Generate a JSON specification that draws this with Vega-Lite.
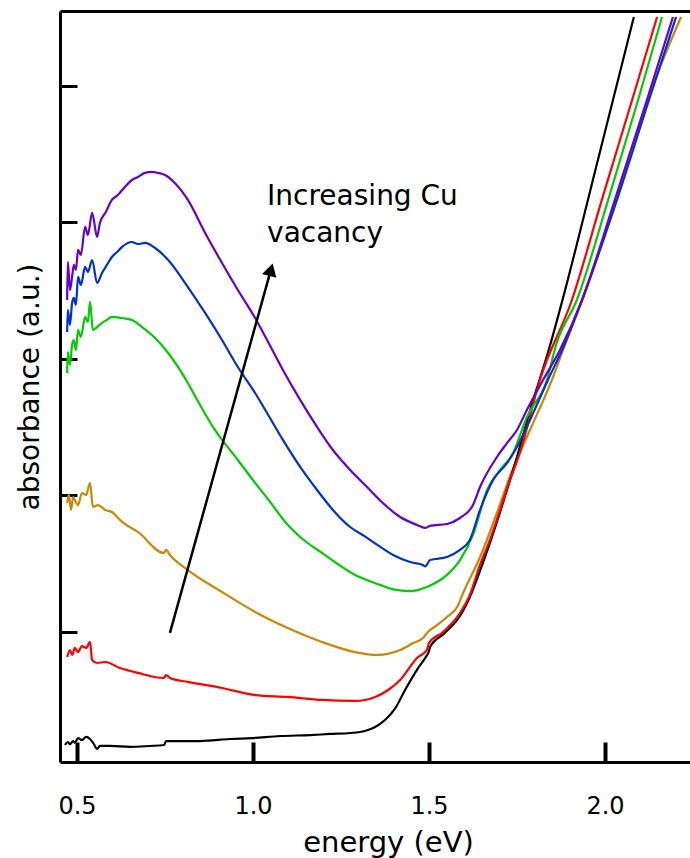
{
  "$schema": "https://vega.github.io/schema/vega-lite/v6.json",
  "width": 630,
  "height": 751,
  "autosize": "none",
  "padding": {"left": 60, "top": 11, "right": 0, "bottom": 96},
  "background": "white",
  "config": {
    "view": {"stroke": null},
    "font": "DejaVu Sans",
    "axis": {"grid": false, "domainColor": "black", "tickColor": "black", "labelColor": "black", "titleColor": "black", "labelFont": "DejaVu Sans", "titleFont": "DejaVu Sans", "titleFontWeight": "normal"}
  },
  "resolve": {"axis": {"x": "independent", "y": "independent"}},
  "datasets": {
    "curves": [
      {"s":"orange","e":0.472,"a":1.945},{"s":"orange","e":0.477,"a":2.004},{"s":"orange","e":0.483,"a":1.894},{"s":"orange","e":0.489,"a":1.989},{"s":"orange","e":0.494,"a":1.967},{"s":"orange","e":0.503,"a":1.930},{"s":"orange","e":0.514,"a":2.018},{"s":"orange","e":0.526,"a":2.004},{"s":"orange","e":0.537,"a":2.092},{"s":"orange","e":0.545,"a":1.916},{"s":"orange","e":0.560,"a":1.930},{"s":"orange","e":0.580,"a":1.894},{"s":"orange","e":0.599,"a":1.879},{"s":"orange","e":0.628,"a":1.806},{"s":"orange","e":0.673,"a":1.733},{"s":"orange","e":0.747,"a":1.579},{"s":"orange","e":0.753,"a":1.601},{"s":"orange","e":0.764,"a":1.564},{"s":"orange","e":0.815,"a":1.454},{"s":"orange","e":0.912,"a":1.293},{"s":"orange","e":1.006,"a":1.147},{"s":"orange","e":1.099,"a":1.029},{"s":"orange","e":1.196,"a":0.927},{"s":"orange","e":1.290,"a":0.853},{"s":"orange","e":1.355,"a":0.832},{"s":"orange","e":1.418,"a":0.868},{"s":"orange","e":1.455,"a":0.919},{"s":"orange","e":1.483,"a":0.956},{"s":"orange","e":1.497,"a":1.000},{"s":"orange","e":1.531,"a":1.066},{"s":"orange","e":1.551,"a":1.110},{"s":"orange","e":1.580,"a":1.183},{"s":"orange","e":1.597,"a":1.286},{"s":"orange","e":1.645,"a":1.549},{"s":"orange","e":1.693,"a":1.872},{"s":"orange","e":1.739,"a":2.201},{"s":"orange","e":1.787,"a":2.480},{"s":"orange","e":1.849,"a":2.846},{"s":"orange","e":1.881,"a":3.066},{"s":"orange","e":1.929,"a":3.396},{"s":"orange","e":2.031,"a":4.165},{"s":"orange","e":2.119,"a":4.875},{"s":"orange","e":2.134,"a":4.985},{"s":"orange","e":2.216,"a":5.505},
      {"s":"black","e":0.466,"a":0.172},{"s":"black","e":0.474,"a":0.194},{"s":"black","e":0.480,"a":0.179},{"s":"black","e":0.489,"a":0.201},{"s":"black","e":0.494,"a":0.187},{"s":"black","e":0.503,"a":0.223},{"s":"black","e":0.514,"a":0.209},{"s":"black","e":0.526,"a":0.231},{"s":"black","e":0.537,"a":0.216},{"s":"black","e":0.548,"a":0.179},{"s":"black","e":0.557,"a":0.143},{"s":"black","e":0.565,"a":0.165},{"s":"black","e":0.594,"a":0.165},{"s":"black","e":0.651,"a":0.158},{"s":"black","e":0.707,"a":0.165},{"s":"black","e":0.747,"a":0.172},{"s":"black","e":0.753,"a":0.201},{"s":"black","e":0.849,"a":0.201},{"s":"black","e":0.935,"a":0.216},{"s":"black","e":0.997,"a":0.223},{"s":"black","e":1.077,"a":0.238},{"s":"black","e":1.162,"a":0.245},{"s":"black","e":1.219,"a":0.253},{"s":"black","e":1.276,"a":0.260},{"s":"black","e":1.318,"a":0.275},{"s":"black","e":1.347,"a":0.304},{"s":"black","e":1.375,"a":0.355},{"s":"black","e":1.403,"a":0.436},{"s":"black","e":1.432,"a":0.575},{"s":"black","e":1.469,"a":0.736},{"s":"black","e":1.491,"a":0.817},{"s":"black","e":1.500,"a":0.861},{"s":"black","e":1.503,"a":0.890},{"s":"black","e":1.545,"a":0.993},{"s":"black","e":1.588,"a":1.117},{"s":"black","e":1.616,"a":1.256},{"s":"black","e":1.653,"a":1.505},{"s":"black","e":1.702,"a":1.879},{"s":"black","e":1.724,"a":2.062},{"s":"black","e":1.750,"a":2.282},{"s":"black","e":1.787,"a":2.620},{"s":"black","e":1.844,"a":3.100},{"s":"black","e":1.878,"a":3.420},{"s":"black","e":1.980,"a":4.460},{"s":"black","e":2.082,"a":5.505},
      {"s":"red","e":0.472,"a":0.817},{"s":"red","e":0.480,"a":0.868},{"s":"red","e":0.486,"a":0.832},{"s":"red","e":0.494,"a":0.883},{"s":"red","e":0.503,"a":0.853},{"s":"red","e":0.514,"a":0.897},{"s":"red","e":0.526,"a":0.883},{"s":"red","e":0.537,"a":0.927},{"s":"red","e":0.543,"a":0.795},{"s":"red","e":0.557,"a":0.773},{"s":"red","e":0.580,"a":0.780},{"s":"red","e":0.622,"a":0.736},{"s":"red","e":0.673,"a":0.700},{"s":"red","e":0.747,"a":0.663},{"s":"red","e":0.753,"a":0.685},{"s":"red","e":0.764,"a":0.663},{"s":"red","e":0.815,"a":0.634},{"s":"red","e":0.912,"a":0.590},{"s":"red","e":1.006,"a":0.538},{"s":"red","e":1.099,"a":0.524},{"s":"red","e":1.196,"a":0.502},{"s":"red","e":1.290,"a":0.495},{"s":"red","e":1.347,"a":0.524},{"s":"red","e":1.384,"a":0.575},{"s":"red","e":1.418,"a":0.648},{"s":"red","e":1.466,"a":0.810},{"s":"red","e":1.494,"a":0.868},{"s":"red","e":1.500,"a":0.919},{"s":"red","e":1.540,"a":1.000},{"s":"red","e":1.588,"a":1.139},{"s":"red","e":1.616,"a":1.271},{"s":"red","e":1.645,"a":1.491},{"s":"red","e":1.673,"a":1.674},{"s":"red","e":1.702,"a":1.894},{"s":"red","e":1.722,"a":2.055},{"s":"red","e":1.759,"a":2.319},{"s":"red","e":1.815,"a":2.846},{"s":"red","e":1.906,"a":3.432},{"s":"red","e":1.991,"a":4.165},{"s":"red","e":2.077,"a":4.897},{"s":"red","e":2.148,"a":5.505},
      {"s":"green","e":0.472,"a":2.897},{"s":"green","e":0.474,"a":3.051},{"s":"green","e":0.480,"a":2.956},{"s":"green","e":0.486,"a":3.103},{"s":"green","e":0.491,"a":3.139},{"s":"green","e":0.497,"a":3.066},{"s":"green","e":0.503,"a":3.212},{"s":"green","e":0.511,"a":3.161},{"s":"green","e":0.523,"a":3.308},{"s":"green","e":0.531,"a":3.271},{"s":"green","e":0.537,"a":3.418},{"s":"green","e":0.545,"a":3.212},{"s":"green","e":0.557,"a":3.234},{"s":"green","e":0.571,"a":3.264},{"s":"green","e":0.585,"a":3.286},{"s":"green","e":0.599,"a":3.308},{"s":"green","e":0.628,"a":3.300},{"s":"green","e":0.656,"a":3.286},{"s":"green","e":0.685,"a":3.234},{"s":"green","e":0.722,"a":3.154},{"s":"green","e":0.759,"a":3.044},{"s":"green","e":0.815,"a":2.824},{"s":"green","e":0.835,"a":2.730},{"s":"green","e":0.892,"a":2.480},{"s":"green","e":0.957,"a":2.260},{"s":"green","e":1.006,"a":2.092},{"s":"green","e":1.040,"a":1.982},{"s":"green","e":1.099,"a":1.784},{"s":"green","e":1.134,"a":1.696},{"s":"green","e":1.196,"a":1.579},{"s":"green","e":1.290,"a":1.418},{"s":"green","e":1.361,"a":1.345},{"s":"green","e":1.398,"a":1.312},{"s":"green","e":1.446,"a":1.300},{"s":"green","e":1.494,"a":1.330},{"s":"green","e":1.551,"a":1.418},{"s":"green","e":1.588,"a":1.527},{"s":"green","e":1.625,"a":1.711},{"s":"green","e":1.665,"a":2.040},{"s":"green","e":1.702,"a":2.187},{"s":"green","e":1.739,"a":2.311},{"s":"green","e":1.778,"a":2.575},{"s":"green","e":1.835,"a":2.846},{"s":"green","e":1.861,"a":3.103},{"s":"green","e":1.920,"a":3.432},{"s":"green","e":2.009,"a":4.165},{"s":"green","e":2.094,"a":4.897},{"s":"green","e":2.162,"a":5.505},
      {"s":"blue","e":0.472,"a":3.198},{"s":"blue","e":0.474,"a":3.359},{"s":"blue","e":0.480,"a":3.249},{"s":"blue","e":0.486,"a":3.410},{"s":"blue","e":0.491,"a":3.447},{"s":"blue","e":0.497,"a":3.396},{"s":"blue","e":0.503,"a":3.601},{"s":"blue","e":0.511,"a":3.542},{"s":"blue","e":0.523,"a":3.674},{"s":"blue","e":0.531,"a":3.637},{"s":"blue","e":0.543,"a":3.725},{"s":"blue","e":0.557,"a":3.557},{"s":"blue","e":0.571,"a":3.630},{"s":"blue","e":0.585,"a":3.689},{"s":"blue","e":0.599,"a":3.747},{"s":"blue","e":0.614,"a":3.784},{"s":"blue","e":0.628,"a":3.821},{"s":"blue","e":0.656,"a":3.857},{"s":"blue","e":0.673,"a":3.842},{"s":"blue","e":0.693,"a":3.850},{"s":"blue","e":0.722,"a":3.813},{"s":"blue","e":0.759,"a":3.725},{"s":"blue","e":0.815,"a":3.527},{"s":"blue","e":0.864,"a":3.337},{"s":"blue","e":0.912,"a":3.139},{"s":"blue","e":0.957,"a":2.941},{"s":"blue","e":1.006,"a":2.751},{"s":"blue","e":1.040,"a":2.604},{"s":"blue","e":1.085,"a":2.407},{"s":"blue","e":1.134,"a":2.209},{"s":"blue","e":1.182,"a":2.040},{"s":"blue","e":1.227,"a":1.894},{"s":"blue","e":1.276,"a":1.769},{"s":"blue","e":1.318,"a":1.700},{"s":"blue","e":1.352,"a":1.640},{"s":"blue","e":1.398,"a":1.564},{"s":"blue","e":1.446,"a":1.513},{"s":"blue","e":1.483,"a":1.491},{"s":"blue","e":1.489,"a":1.480},{"s":"blue","e":1.503,"a":1.527},{"s":"blue","e":1.551,"a":1.549},{"s":"blue","e":1.588,"a":1.601},{"s":"blue","e":1.616,"a":1.674},{"s":"blue","e":1.645,"a":1.894},{"s":"blue","e":1.682,"a":2.114},{"s":"blue","e":1.722,"a":2.238},{"s":"blue","e":1.750,"a":2.355},{"s":"blue","e":1.787,"a":2.553},{"s":"blue","e":1.838,"a":2.846},{"s":"blue","e":1.878,"a":3.066},{"s":"blue","e":1.935,"a":3.432},{"s":"blue","e":2.034,"a":4.165},{"s":"blue","e":2.125,"a":4.897},{"s":"blue","e":2.202,"a":5.505},
      {"s":"purple","e":0.472,"a":3.432},{"s":"purple","e":0.474,"a":3.711},{"s":"purple","e":0.480,"a":3.505},{"s":"purple","e":0.486,"a":3.601},{"s":"purple","e":0.491,"a":3.689},{"s":"purple","e":0.497,"a":3.652},{"s":"purple","e":0.503,"a":3.799},{"s":"purple","e":0.511,"a":3.762},{"s":"purple","e":0.523,"a":3.967},{"s":"purple","e":0.531,"a":3.908},{"s":"purple","e":0.543,"a":4.070},{"s":"purple","e":0.557,"a":3.894},{"s":"purple","e":0.565,"a":3.996},{"s":"purple","e":0.582,"a":4.077},{"s":"purple","e":0.599,"a":4.165},{"s":"purple","e":0.616,"a":4.201},{"s":"purple","e":0.636,"a":4.260},{"s":"purple","e":0.656,"a":4.311},{"s":"purple","e":0.673,"a":4.333},{"s":"purple","e":0.693,"a":4.363},{"s":"purple","e":0.713,"a":4.370},{"s":"purple","e":0.730,"a":4.363},{"s":"purple","e":0.750,"a":4.348},{"s":"purple","e":0.778,"a":4.289},{"s":"purple","e":0.815,"a":4.165},{"s":"purple","e":0.864,"a":3.923},{"s":"purple","e":0.912,"a":3.703},{"s":"purple","e":0.957,"a":3.505},{"s":"purple","e":1.006,"a":3.300},{"s":"purple","e":1.040,"a":3.139},{"s":"purple","e":1.085,"a":2.919},{"s":"purple","e":1.134,"a":2.700},{"s":"purple","e":1.182,"a":2.502},{"s":"purple","e":1.227,"a":2.333},{"s":"purple","e":1.276,"a":2.187},{"s":"purple","e":1.324,"a":2.062},{"s":"purple","e":1.369,"a":1.945},{"s":"purple","e":1.418,"a":1.842},{"s":"purple","e":1.466,"a":1.784},{"s":"purple","e":1.489,"a":1.762},{"s":"purple","e":1.503,"a":1.777},{"s":"purple","e":1.551,"a":1.791},{"s":"purple","e":1.588,"a":1.835},{"s":"purple","e":1.625,"a":1.930},{"s":"purple","e":1.645,"a":2.062},{"s":"purple","e":1.693,"a":2.282},{"s":"purple","e":1.722,"a":2.385},{"s":"purple","e":1.750,"a":2.480},{"s":"purple","e":1.778,"a":2.626},{"s":"purple","e":1.824,"a":2.846},{"s":"purple","e":1.872,"a":3.066},{"s":"purple","e":1.935,"a":3.432},{"s":"purple","e":2.028,"a":4.165},{"s":"purple","e":2.119,"a":4.897},{"s":"purple","e":2.193,"a":5.505}
    ],
    "arrow": [{"x1": 0.764, "y1": 0.993, "x2": 1.051, "y2": 3.654}],
    "labels": [
      {"t": "Increasing Cu", "x": 1.040, "y": 4.128},
      {"t": "vacancy", "x": 1.040, "y": 3.857}
    ]
  },
  "layer": [
    {
      "data": {"name": "curves"},
      "mark": {"type": "line", "strokeWidth": 2.2, "clip": true, "interpolate": "monotone"},
      "encoding": {
        "x": {"field": "e", "type": "quantitative",
          "scale": {"domain": [0.4517, 2.2415], "nice": false, "zero": false},
          "axis": {"orient": "bottom", "values": [0.5, 1.0, 1.5, 2.0], "format": ".1f", "tickSize": -20, "tickWidth": 4, "domainWidth": 3, "labelFontSize": 24, "labelPadding": 71, "labelBaseline": "alphabetic", "title": "energy (eV)", "titleFontSize": 29, "titleX": 328, "titleY": 89, "titleBaseline": "alphabetic", "titleAlign": "center"}},
        "y": {"field": "a", "type": "quantitative",
          "scale": {"domain": [0.0476, 5.549], "nice": false, "zero": false},
          "axis": {"orient": "left", "values": [1, 2, 3, 4, 5], "labels": false, "tickSize": -17, "tickWidth": 3, "domainWidth": 3, "title": "absorbance (a.u.)", "titleFontSize": 28, "titleX": -22, "titleY": 375.5, "titleAngle": -90, "titleBaseline": "alphabetic", "titleAlign": "center"}},
        "color": {"field": "s", "type": "nominal",
          "scale": {"domain": ["orange", "black", "red", "green", "blue", "purple"], "range": ["#cc8800", "#000000", "#ff0000", "#00cc00", "#0033cc", "#6600cc"]},
          "legend": null}
      }
    },
    {
      "data": {"name": "arrow"},
      "mark": {"type": "rule", "strokeWidth": 2.5, "color": "black"},
      "encoding": {
        "x": {"field": "x1", "type": "quantitative", "axis": {"orient": "top", "labels": false, "ticks": false, "title": null, "domainWidth": 3}},
        "y": {"field": "y1", "type": "quantitative", "axis": null},
        "x2": {"field": "x2"},
        "y2": {"field": "y2"}
      }
    },
    {
      "data": {"name": "arrow"},
      "mark": {"type": "point", "shape": "triangle-up", "filled": true, "color": "black", "size": 220, "angle": 15.5, "opacity": 1},
      "encoding": {
        "x": {"field": "x2", "type": "quantitative", "axis": null},
        "y": {"field": "y2", "type": "quantitative", "axis": null}
      }
    },
    {
      "data": {"name": "labels"},
      "mark": {"type": "text", "align": "left", "baseline": "alphabetic", "fontSize": 28, "font": "DejaVu Sans", "color": "black"},
      "encoding": {
        "x": {"field": "x", "type": "quantitative", "axis": null},
        "y": {"field": "y", "type": "quantitative", "axis": null},
        "text": {"field": "t"}
      }
    }
  ]
}
